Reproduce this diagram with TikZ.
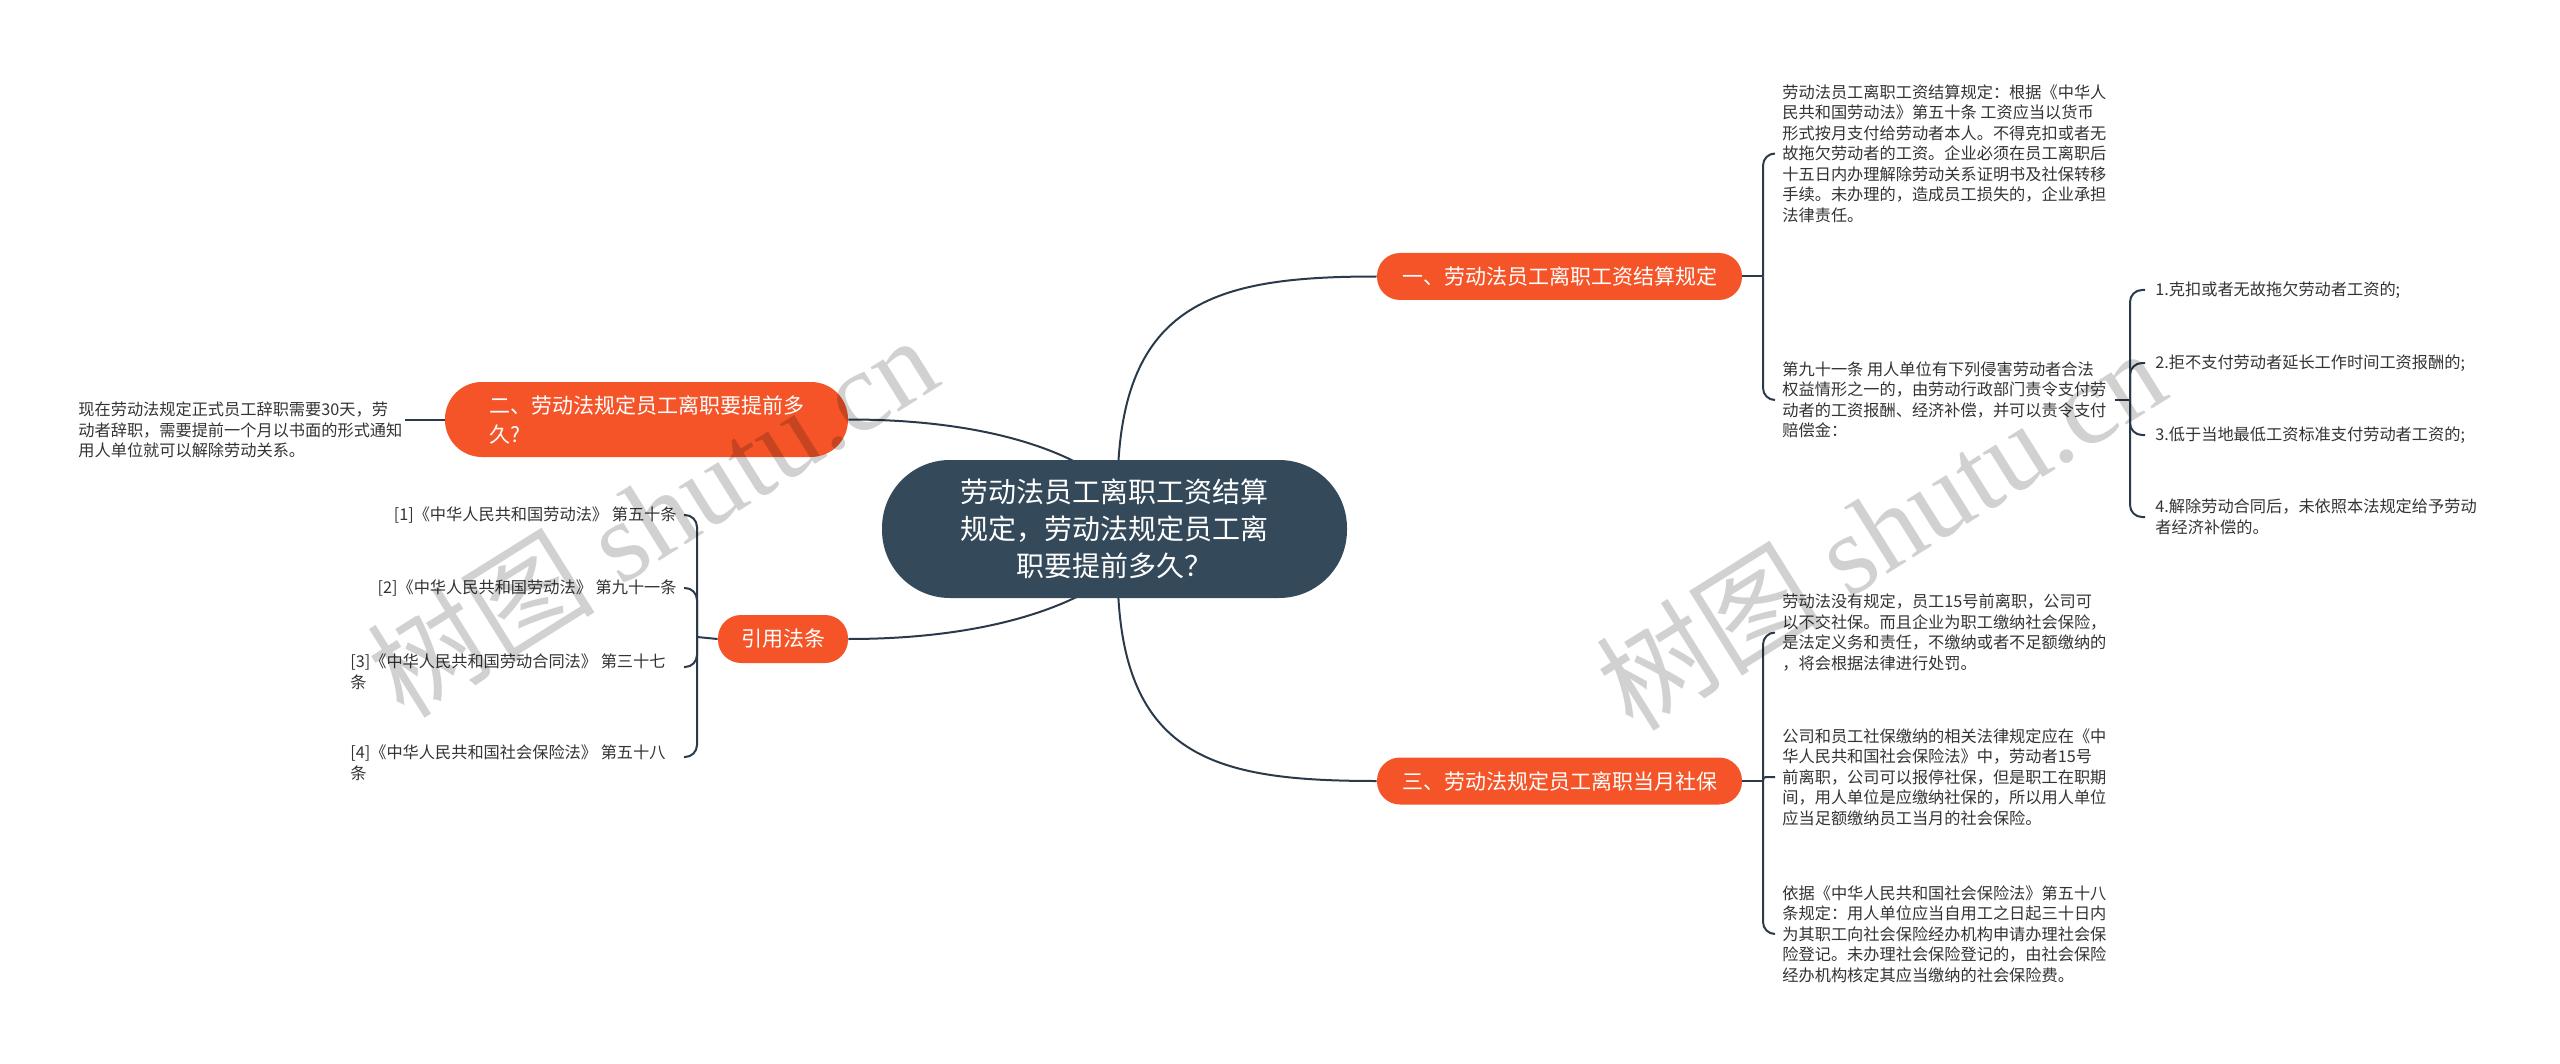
\documentclass[tikz,border=0pt]{standalone}
\usepackage{fontspec}
\setmainfont{Noto Sans CJK SC}
\newfontfamily\wmlatin{Liberation Serif}
\usetikzlibrary{backgrounds,calc}
\definecolor{orangeM}{HTML}{F45428}
\definecolor{slateC}{HTML}{344959}
\definecolor{lineC}{HTML}{2B3A4A}
\definecolor{textC}{HTML}{333333}
\begin{document}
\begin{tikzpicture}[x=0.5pt,y=-0.5pt,
  mainbox/.style={fill=orangeM, text=white, inner sep=0pt, font=\fontsize{10.5pt}{14.5pt}\selectfont, align=left},
  leaf/.style={text=textC, inner sep=0pt, font=\fontsize{8.1pt}{10.25pt}\selectfont, align=left},
  conn/.style={draw=lineC, line width=1pt},
  hook/.style={conn, rounded corners=6pt},
  wmark/.style={rotate=32, text=black, text opacity=0.18, inner sep=0pt, font=\fontsize{57pt}{57pt}\selectfont},
]
\useasboundingbox (0,0) rectangle (2560,1064);

% central and main nodes
\node[fill=slateC, text=white, minimum width=232.5pt, minimum height=69pt, rounded corners=34pt, inner sep=0pt, align=center, font=\fontsize{14pt}{18.5pt}\selectfont] (c) at (1114.5,529) {劳动法员工离职工资结算\\规定，劳动法规定员工离\\职要提前多久？};
\node[mainbox, minimum width=182.5pt, minimum height=23.5pt, rounded corners=11.5pt] (n1) at (1559.5,276.5) {一、劳动法员工离职工资结算规定};
\node[mainbox, minimum width=201.5pt, minimum height=37.5pt, rounded corners=18.5pt] (n2) at (646.5,419.5) {二、劳动法规定员工离职要提前多\\久?};
\node[mainbox, minimum width=182.5pt, minimum height=23.5pt, rounded corners=11.5pt] (n3) at (1559.5,781) {三、劳动法规定员工离职当月社保};
\node[mainbox, minimum width=65pt, minimum height=24pt, rounded corners=11.5pt] (n4) at (783,639) {引用法条};

% leaves
\node[leaf, anchor=west] (a1) at (1782,153.5) {劳动法员工离职工资结算规定：根据《中华人\\民共和国劳动法》第五十条 工资应当以货币\\形式按月支付给劳动者本人。不得克扣或者无\\故拖欠劳动者的工资。企业必须在员工离职后\\十五日内办理解除劳动关系证明书及社保转移\\手续。未办理的，造成员工损失的，企业承担\\法律责任。};
\node[leaf, anchor=west] (b1) at (1782,400) {第九十一条 用人单位有下列侵害劳动者合法\\权益情形之一的，由劳动行政部门责令支付劳\\动者的工资报酬、经济补偿，并可以责令支付\\赔偿金：};
\node[leaf, anchor=west] (k1) at (2155,290) {1.克扣或者无故拖欠劳动者工资的;};
\node[leaf, anchor=west] (k2) at (2155,363) {2.拒不支付劳动者延长工作时间工资报酬的;};
\node[leaf, anchor=west] (k3) at (2155,435) {3.低于当地最低工资标准支付劳动者工资的;};
\node[leaf, anchor=west] (k4) at (2155,517) {4.解除劳动合同后，未依照本法规定给予劳动\\者经济补偿的。};
\node[leaf, anchor=west] (s1) at (1782,632.5) {劳动法没有规定，员工15号前离职，公司可\\以不交社保。而且企业为职工缴纳社会保险，\\是法定义务和责任，不缴纳或者不足额缴纳的\\，将会根据法律进行处罚。};
\node[leaf, anchor=west] (s2) at (1782,777) {公司和员工社保缴纳的相关法律规定应在《中\\华人民共和国社会保险法》中，劳动者15号\\前离职，公司可以报停社保，但是职工在职期\\间，用人单位是应缴纳社保的，所以用人单位\\应当足额缴纳员工当月的社会保险。};
\node[leaf, anchor=west] (s3) at (1782,934) {依据《中华人民共和国社会保险法》第五十八\\条规定：用人单位应当自用工之日起三十日内\\为其职工向社会保险经办机构申请办理社会保\\险登记。未办理社会保险登记的，由社会保险\\经办机构核定其应当缴纳的社会保险费。};
\node[leaf, anchor=west] (L0) at (78,430) {现在劳动法规定正式员工辞职需要30天，劳\\动者辞职，需要提前一个月以书面的形式通知\\用人单位就可以解除劳动关系。};
\node[leaf, anchor=east] (r1) at (677,515) {[1]《中华人民共和国劳动法》 第五十条};
\node[leaf, anchor=east] (r2) at (677,588) {[2]《中华人民共和国劳动法》 第九十一条};
\node[leaf, anchor=west] (r3) at (350,672) {[3]《中华人民共和国劳动合同法》 第三十七\\条};
\node[leaf, anchor=west] (r4) at (350,763) {[4]《中华人民共和国社会保险法》 第五十八\\条};

% junctions and hook ends
\coordinate (j1) at (1763,276.5);
\coordinate (jb) at (2130,400);
\coordinate (j3) at (1763,781);
\coordinate (j4) at (697,637);
\coordinate (jL) at (405,419.5);
\coordinate (e3) at (684,667);
\coordinate (e4) at (684,757);
\coordinate (cs1) at (1118,470);
\coordinate (cs3) at (1118,590);
\coordinate (cs2) at (1090,470);
\coordinate (cs4) at (1090,590);

\begin{scope}[on background layer]
  \draw[conn] (cs1) .. controls (1125,300) and (1220,276.5) .. (n1.west);
  \draw[conn] (cs3) .. controls (1125,760) and (1220,781) .. (n3.west);
  \draw[conn] (n2.east) .. controls (960,419.5) and (1040,440) .. (cs2);
  \draw[conn] (n4.east) .. controls (960,639) and (1040,618) .. (cs4);
\end{scope}

% node 1 group
\draw[conn] (n1.east) -- (j1);
\draw[hook] (j1) |- ($(a1.west)+(-7,0)$);
\draw[hook] (j1) |- ($(b1.west)+(-7,0)$);
% 1b group
\draw[conn] ($(b1.east)+(8,0)$) -- (jb);
\draw[hook] (jb) |- ($(k1.west)+(-10,0)$);
\draw[hook] (jb) |- ($(k2.west)+(-10,0)$);
\draw[hook] (jb) |- ($(k3.west)+(-10,0)$);
\draw[hook] (jb) |- ($(k4.west)+(-10,0)$);
% node 3 group
\draw[conn] (n3.east) -- (j3);
\draw[hook] (j3) |- ($(s1.west)+(-7,0)$);
\draw[conn, rounded corners=1.5pt] (j3) |- ($(s2.west)+(-7,0)$);
\draw[hook] (j3) |- ($(s3.west)+(-7,0)$);
% node 2 leaf
\draw[conn] (n2.west) -- (jL);
% references
\draw[conn] (n4.west) -- (j4);
\draw[hook] (j4) |- ($(r1.east)+(7,0)$);
\draw[hook] (j4) |- ($(r2.east)+(7,0)$);
\draw[hook] (j4) |- (e3);
\draw[hook] (j4) |- (e4);

% watermarks
\node[wmark] (wm1) at (652,515) {树图 {\wmlatin shutu.cn}};
\node[wmark] (wm2) at (1880,528) {树图 {\wmlatin shutu.cn}};
\end{tikzpicture}
\end{document}
